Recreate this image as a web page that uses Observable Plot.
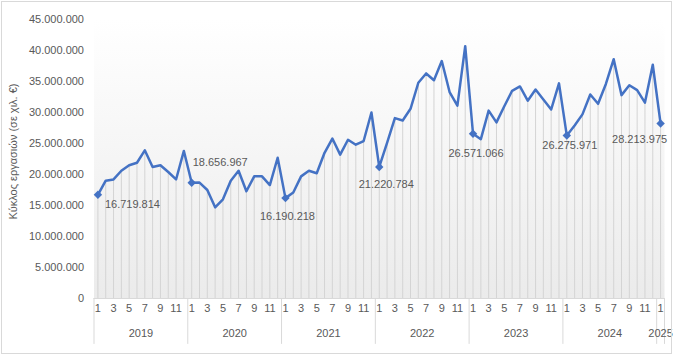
<!DOCTYPE html>
<html><head><meta charset="utf-8">
<script src="https://cdn.jsdelivr.net/npm/d3@7"></script>
<script src="https://cdn.jsdelivr.net/npm/@observablehq/plot@0.6"></script>
<style>
body{margin:0;background:#fff;}
#wrap{position:relative;width:676px;height:358px;}
#border{position:absolute;left:1px;top:1px;width:669px;height:351px;border:1px solid #d9d9d9;pointer-events:none;}
svg{display:block;}
</style></head><body><div id="wrap"><div id="border"></div></div>
<script>
const years = [2019, 2020, 2021, 2022, 2023, 2024, 2025];
const monthTicks = [1, 3, 5, 7, 9, 11];
const values2019 = [16719814, 19000000, 19200000, 20600000, 21500000, 21900000, 23900000, 21200000, 21500000, 20400000, 19200000, 23800000];
const values2020 = [18656967, 18700000, 17500000, 14700000, 16000000, 19000000, 20600000, 17300000, 19700000, 19700000, 18300000, 22700000];
const values2021 = [16190218, 17100000, 19700000, 20600000, 20200000, 23500000, 25800000, 23200000, 25600000, 24800000, 25400000, 30000000];
const values2022 = [21220784, 25100000, 29100000, 28700000, 30600000, 34800000, 36300000, 35200000, 38300000, 33300000, 31100000, 40700000];
const values2023 = [26571066, 25700000, 30300000, 28400000, 31000000, 33500000, 34200000, 31900000, 33700000, 32100000, 30500000, 34700000];
const values2024 = [26275971, 27900000, 29700000, 32900000, 31400000, 34600000, 38600000, 32800000, 34400000, 33600000, 31600000, 37700000];
const values2025 = [28213975];
const yTicks = [0, 5e6, 10e6, 15e6, 20e6, 25e6, 30e6, 35e6, 40e6, 45e6];
const yLabel = "Κύκλος εργασιών (σε χιλ. €)";

const series = [values2019, values2020, values2021, values2022, values2023, values2024, values2025];
const data = [];
series.forEach((vals, yi) => vals.forEach((v, m) => data.push({i: data.length, year: years[yi], month: m + 1, value: v})));
const jan = data.filter(d => d.month === 1);

const loc = d3.formatLocale({decimal: ",", thousands: ".", grouping: [3], currency: ["", "€"]});
const fmt = loc.format(",d");

// label offsets (layout only)
const labelOffsets = [[7, 10, "start"], [1, -20, "start"], [2, 18, "middle"], [7, 18, "middle"], [3, 20, "middle"], [3, 10, "middle"], [-21, 16, "middle"]];

const monthData = data.filter(d => monthTicks.includes(d.month));
const yearData = years.map(y => {
  const ds = data.filter(d => d.year === y);
  return {year: y, x: (ds[0].i + ds[ds.length - 1].i) / 2};
});
const boundaries = years.map(y => data.find(d => d.year === y).i - 0.5).concat([data.length - 0.5]);

const txt = "#595959";
const font = "Liberation Sans, Arial, sans-serif";

const defs = () => {
  const g = d3.create("svg:defs");
  const lg = g.append("linearGradient").attr("id", "bg").attr("x1", 0).attr("y1", 0).attr("x2", 0).attr("y2", 1);
  lg.append("stop").attr("offset", "0%").attr("stop-color", "#ffffff");
  lg.append("stop").attr("offset", "100%").attr("stop-color", "#ebebeb");
  return g.node();
};

const chart = Plot.plot({
  width: 676,
  height: 358,
  marginLeft: 93.5,
  marginRight: 12,
  marginTop: 19,
  marginBottom: 60,
  style: {fontFamily: font, fontSize: "11px", color: txt, background: "transparent"},
  x: {type: "linear", domain: [-0.5, data.length - 0.5], axis: null},
  y: {domain: [0, 45e6], axis: null},
  marks: [
    defs,
    Plot.frame({fill: "url(#bg)", stroke: null}),
    Plot.ruleX(data, {x: "i", y1: 0, y2: "value", stroke: "#d4d4d4", strokeWidth: 1}),
    Plot.ruleY([0], {stroke: "#d9d9d9"}),
    Plot.ruleX(boundaries, {x: d => d, y1: 0, y2: -7.4e6, stroke: "#d9d9d9"}),
    Plot.line(data, {x: "i", y: "value", stroke: "#4472c4", strokeWidth: 2.5, strokeLinejoin: "round"}),
    Plot.dot(jan, {x: "i", y: "value", symbol: "diamond2", r: 3.8, fill: "#4472c4", stroke: "none"}),
    ...jan.map((d, k) => Plot.text([d], {x: "i", y: "value", text: d => fmt(d.value), dx: labelOffsets[k][0], dy: labelOffsets[k][1], textAnchor: labelOffsets[k][2], fill: txt, fontSize: 11})),
    Plot.text(yTicks, {x: -0.5, y: d => d, text: d => fmt(d), textAnchor: "end", dx: -10, fill: txt, fontSize: 11}),
    Plot.text([yLabel], {x: -0.5, y: 23.7e6, text: d => d, rotate: -90, dx: -81, fill: txt, fontSize: 11}),
    Plot.text(monthData, {x: "i", text: d => String(d.month), frameAnchor: "bottom", dy: 13, fill: txt, fontSize: 11}),
    Plot.text(yearData, {x: "x", text: d => String(d.year), frameAnchor: "bottom", dy: 38, fill: txt, fontSize: 11})
  ]
});
document.getElementById("wrap").prepend(chart);
</script></body></html>
